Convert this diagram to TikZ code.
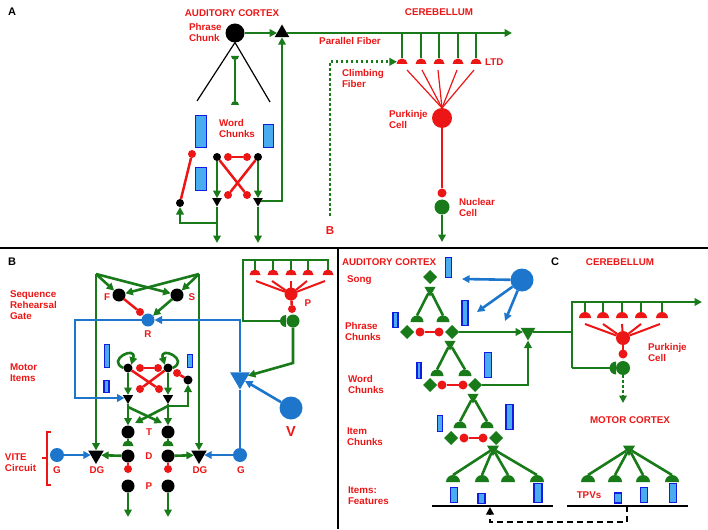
\documentclass[tikz,border=0pt]{standalone}
\usepackage{fontspec}
\setmainfont{Liberation Sans}
\usetikzlibrary{shapes.geometric,arrows.meta}

\definecolor{gn}{RGB}{24,122,24}
\definecolor{rd}{RGB}{236,22,22}
\definecolor{bu}{RGB}{30,118,204}
\definecolor{barfill}{RGB}{74,172,240}
\definecolor{barline}{RGB}{16,28,226}

\begin{document}
\begin{tikzpicture}[x=1pt,y=-1pt]
  \tikzstyle{every node}=[inner sep=0pt,outer sep=0pt]
  \tikzstyle{lab}=[text=rd,font=\fontsize{9.8}{11}\selectfont\bfseries,align=left]
  \tikzstyle{panel}=[font=\fontsize{11}{12}\selectfont\bfseries]
  \tikzstyle{gl}=[draw=gn,line width=2.6pt]
  \tikzstyle{ga}=[gl,-{Triangle[length=7.5pt,width=7.5pt]}]
  \tikzstyle{gdt}=[ga,dash pattern=on 2.6pt off 2.4pt]
  \tikzstyle{rl}=[draw=rd,line width=2.5pt]
  \tikzstyle{rthin}=[draw=rd,line width=1.2pt]
  \tikzstyle{ul}=[draw=bu,line width=2.6pt]
  \tikzstyle{ua}=[ul,-{Triangle[length=7.5pt,width=7.5pt]}]
  \tikzstyle{kc}=[circle,fill=black]
  \tikzstyle{rc}=[circle,fill=rd]
  \tikzstyle{gc}=[circle,fill=gn]
  \tikzstyle{uc}=[circle,fill=bu]
  \tikzstyle{syn}=[semicircle,fill=gn,anchor=chord center]
  \tikzstyle{dia}=[diamond,fill=gn,minimum size=14pt]
  \tikzstyle{tri}=[regular polygon,regular polygon sides=3,fill=black]
  \tikzstyle{itri}=[tri,shape border rotate=180]
  \tikzstyle{bar}=[rectangle,draw=barline,fill=barfill,line width=1.6pt]

  \useasboundingbox (0,0) rectangle (708,529);
  % frames
  \draw[line width=2.4pt] (0,248) -- (708,248);
  \draw[line width=2.4pt] (338,248) -- (338,529);

  % ---------- A ----------
  \node[panel] (lA) at (12,12) {A};
  \node[lab] (acxA) at (232,13) {AUDITORY CORTEX};
  \node[lab,anchor=west] (phA) at (189,33) {Phrase\\Chunk};
  \node[kc,minimum size=19pt] (pc) at (235,33) {};
  \node[tri,minimum size=17pt] (pt) at (282,33) {};
  \coordinate (pfA) at (512,33);
  \draw[ga] (pc) -- (pt);
  \draw[ga] (pt) -- (pfA);
  \coordinate (wcl) at (197,101);
  \coordinate (wcr) at (270,102);
  \draw[line width=1.2pt] (pc.south) -- (wcl);
  \draw[line width=1.2pt] (pc.south) -- (wcr);
  \node[syn,minimum width=8pt,shape border rotate=180] (tdA) at (235,56) {};
  \node[syn,minimum width=8pt] (tuA) at (235,105) {};
  \draw[gl] (tdA.apex) -- (tuA.apex);

  \node[bar,minimum width=11pt,minimum height=32pt] (ba1) at (201,131.5) {};
  \node[bar,minimum width=10pt,minimum height=23pt] (ba2) at (268.5,136) {};
  \node[bar,minimum width=11pt,minimum height=23pt] (ba3) at (201,179) {};
  \node[lab,anchor=west] (wcA) at (219,128) {Word\\Chunks};

  \node[kc,minimum size=8pt] (wk1) at (217,157) {};
  \node[kc,minimum size=8pt] (wk2) at (258,157) {};
  \node[rc,minimum size=8pt] (wr1) at (228,157) {};
  \node[rc,minimum size=8pt] (wr2) at (247,157) {};
  \node[rc,minimum size=8pt] (wr3) at (228,195) {};
  \node[rc,minimum size=8pt] (wr4) at (247,195) {};
  \draw[rl] (wr1) -- (wr2);
  \draw[rl] (wk1) -- (wr4);
  \draw[rl] (wk2) -- (wr3);
  \node[itri,minimum size=11pt] (wt1) at (217,201) {};
  \node[itri,minimum size=11pt] (wt2) at (258,201) {};
  \draw[ga] (wk1) -- (wt1);
  \draw[ga] (wk2) -- (wt2);
  \node[rc,minimum size=8pt] (wr5) at (192,154) {};
  \node[kc,minimum size=8pt] (wk3) at (180,203) {};
  \draw[rl] (wr5) -- (wk3);
  \coordinate (wo1) at (217,243);
  \coordinate (wo2) at (258,243);
  \coordinate (wj1) at (217,223);
  \draw[ga] (wt1) -- (wo1);
  \draw[ga] (wj1) -| (wk3);
  \draw[ga] (wt2) -- (wo2);
  \draw[ga] (wt2) -| (pt);

  % cerebellum A
  \node[lab] (cbA) at (439,12) {CEREBELLUM};
  \node[lab] (pfl) at (350,41) {Parallel Fiber};
  \foreach \x [count=\i] in {402,421,439,458,476}{
    \node[syn,fill=rd,minimum width=11pt] (pa\i) at (\x,64) {};
    \draw[gl] (pa\i |- pfA) -- (pa\i.apex);
  }
  \node[lab,anchor=west] (ltd) at (485,62) {LTD};
  \node[rc,minimum size=20pt] (pka) at (442,118) {};
  \foreach \x in {407,422,438,457,474} \draw[rthin] (\x,70) -- (pka.north);
  \node[lab,anchor=west] (pkla) at (389,119) {Purkinje\\Cell};
  \node[rc,minimum size=9pt] (nra) at (442,193) {};
  \draw[rl,line width=2.8pt] (pka) -- (nra);
  \node[gc,minimum size=15pt] (nca) at (442,207) {};
  \coordinate (ncoA) at (442,242);
  \draw[ga] (nca) -- (ncoA);
  \node[lab,anchor=west] (ncl) at (459,207) {Nuclear\\Cell};
  \coordinate (cfA) at (330,216);
  \draw[gdt] (cfA) |- (pa1);
  \node[lab,anchor=west] (cfl) at (342,78) {Climbing\\Fiber};
  \node[lab,font=\fontsize{11.5}{12}\selectfont\bfseries] (lBA) at (330,231) {B};

  % ---------- B ----------
  \node[panel] (lB) at (12,262) {B};
  \node[lab,anchor=west] (srg) at (10,305) {Sequence\\Rehearsal\\Gate};
  \coordinate (gtl) at (96,274);
  \coordinate (gtr) at (199,274);
  \node[kc,minimum size=13pt] (gF) at (119,295) {};
  \node[kc,minimum size=13pt] (gS) at (177,295) {};
  \node[uc,minimum size=13pt] (gR) at (148,320) {};
  \node[rc,minimum size=8pt] (gFr) at (140,312) {};
  \draw[ga] (gtl) -- (gF);
  \draw[ga] (gtl) -- (gS);
  \draw[ga] (gtr) -- (gF);
  \draw[ga] (gtr) -- (gS);
  \draw[rl] (gF) -- (gFr);
  \draw[ga] (gS) -- (gR);
  \node[lab] at (107,297) {F};
  \node[lab] at (192,297) {S};
  \node[lab] at (148,334) {R};

  \node[lab,anchor=west] (mil) at (10,373) {Motor\\Items};
  \node[bar,minimum width=5pt,minimum height=23pt] (bb1) at (107,356) {};
  \node[bar,minimum width=5pt,minimum height=12pt] (bb2) at (106.5,386.5) {};
  \node[bar,minimum width=5pt,minimum height=13pt] (bb3) at (190,361) {};
  \node[kc,minimum size=9pt] (mk1) at (128,368) {};
  \node[kc,minimum size=9pt] (mk2) at (168,368) {};
  \node[rc,minimum size=8pt] (mr1) at (140,368) {};
  \node[rc,minimum size=8pt] (mr2) at (158,368) {};
  \node[rc,minimum size=8pt] (mr3) at (140,389) {};
  \node[rc,minimum size=8pt] (mr4) at (159,389) {};
  \node[rc,minimum size=8pt] (mr5) at (177,373) {};
  \node[kc,minimum size=9pt] (mk3) at (188,380) {};
  \draw[rl] (mr1) -- (mr2);
  \draw[rl] (mk1) -- (mr4);
  \draw[rl] (mk2) -- (mr3);
  \draw[rl] (mr5) -- (mk3);
  \draw[ga] (mk1.west) .. controls +(-18,-8) and +(6,-20) .. (mk1.north east);
  \draw[ga] (mk2.east) .. controls +(18,-8) and +(-6,-20) .. (mk2.north west);
  \node[itri,minimum size=12pt] (mt1) at (128,398) {};
  \node[itri,minimum size=12pt] (mt2) at (168,398) {};
  \draw[ga] (mk1) -- (mt1);
  \draw[ga] (mk2) -- (mt2);
  \coordinate (mj1) at (128,407);
  \coordinate (mj2) at (168,406);
  \coordinate (mx1) at (162,423);
  \coordinate (mx2) at (135,423);
  \draw[ga] (mj2) -| (mk3);
  \draw[ga] (mj1) -- (mx1);
  \draw[ga] (mj2) -- (mx2);

  \node[itri,minimum size=18pt] (dg1) at (96,455) {};
  \node[itri,minimum size=18pt] (dg2) at (199,455) {};
  \draw[ga] (gtl) -- (dg1);
  \draw[ga] (gtr) -- (dg2);
  \foreach \n/\x in {1/128,2/168}{
    \node[kc,minimum size=13pt] (T\n) at (\x,432) {};
    \node[syn,minimum width=11pt] (hs\n) at (\x,446) {};
    \node[kc,minimum size=13pt] (D\n) at (\x,456) {};
    \node[rc,minimum size=8pt] (dr\n) at (\x,469) {};
    \node[kc,minimum size=13pt] (P\n) at (\x,486) {};
    \coordinate (po\n) at (\x,517);
    \draw[ga] (mt\n) -- (T\n);
    \draw[gl] (T\n) -- (hs\n.apex);
    \draw[rl] (D\n) -- (dr\n);
    \draw[ga] (P\n) -- (po\n);
  }
  \draw[ga] (D1) -- (dg1);
  \draw[ga] (D2) -- (dg2);
  \node[lab] at (149,432) {T};
  \node[lab] at (149,456) {D};
  \node[lab] at (149,486) {P};
  \node[lab] at (97,470) {DG};
  \node[lab] at (200,470) {DG};

  \node[uc,minimum size=14pt] (G1) at (57,455) {};
  \node[uc,minimum size=14pt] (G2) at (240,455) {};
  \node[lab] at (57,470) {G};
  \node[lab] at (241,470) {G};
  \draw[ua] (G1) -- (dg1);
  \draw[ua] (G2) -- (dg2);
  \node[itri,fill=bu,minimum size=23pt] (bt) at (240,378) {};
  \draw[ul] (G2) -- (bt);
  \draw[ua] (bt) |- (gR);
  \coordinate (rlp) at (75,320);
  \draw[ua] (gR) -- (rlp) |- (mt1);
  \node[uc,minimum size=23pt] (V) at (291,408) {};
  \node[lab,font=\fontsize{14.5}{15}\selectfont\bfseries] at (291,432) {V};
  \draw[ua] (V) -- (bt);

  \node[lab,anchor=west] (vite) at (5,463) {VITE\\Circuit};
  \draw[draw=rd,line width=1.6pt] (51,432) -- (47,432) -- (47,485) -- (51,485);
  \draw[draw=rd,line width=1.6pt] (47,458) -- (42,458);

  % small cerebellum B
  \coordinate (mcl) at (243,260);
  \coordinate (mcr) at (329,260);
  \node[syn,minimum width=12pt,shape border rotate=90] (hsB) at (286,321) {};
  \draw[gl] (mcr) -- (mcl) |- (hsB);
  \foreach \x [count=\i] in {255,273,291,308,328}{
    \node[syn,fill=rd,minimum width=11pt] (pb\i) at (\x,275) {};
    \draw[gl] (pb\i |- mcl) -- (pb\i.apex);
  }
  \node[rc,minimum size=13pt] (pkB) at (291,294) {};
  \foreach \x in {256,272,291,307,325} \draw[rl,line width=2pt] (\x,281) -- (pkB);
  \node[rc,minimum size=8pt] (prB) at (292,309) {};
  \draw[rl] (pkB) -- (prB);
  \node[gc,minimum size=13pt] (ncB) at (293,321) {};
  \node[lab] at (308,303) {P};
  \coordinate (nbB) at (293,363);
  \draw[ga] (ncB) -- (nbB) -- (bt);

  % ---------- C ----------
  \node[lab,anchor=west] (acxC) at (342,262) {AUDITORY CORTEX};
  \node[panel] (lC) at (555,262) {C};
  \node[lab] (cbC) at (620,262) {CEREBELLUM};
  \node[lab,anchor=west] at (347,280) {Song};
  \node[lab,anchor=west] at (345,331) {Phrase\\Chunks};
  \node[lab,anchor=west] at (348,384) {Word\\Chunks};
  \node[lab,anchor=west] at (347,437) {Item\\Chunks};
  \node[lab,anchor=west] at (348,496) {Items:\\Features};

  \node[bar,minimum width=6pt,minimum height=20pt] at (448.5,267.5) {};
  \node[bar,minimum width=5pt,minimum height=15pt] at (395.5,320) {};
  \node[bar,minimum width=6pt,minimum height=25pt] at (465,313) {};
  \node[bar,minimum width=4.5pt,minimum height=16pt] at (419,370.5) {};
  \node[bar,minimum width=7pt,minimum height=25pt] at (488,365) {};
  \node[bar,minimum width=5pt,minimum height=16pt] at (440,423.5) {};
  \node[bar,minimum width=7pt,minimum height=25pt] at (509.5,417) {};
  \node[bar,minimum width=7pt,minimum height=15pt] at (454,495) {};
  \node[bar,minimum width=7pt,minimum height=10pt] at (481.5,498.5) {};
  \node[bar,minimum width=8pt,minimum height=19pt] at (538,493) {};
  \node[bar,minimum width=7pt,minimum height=10pt] at (618,498) {};
  \node[bar,minimum width=7pt,minimum height=15pt] at (644,495) {};
  \node[bar,minimum width=7pt,minimum height=19pt] at (673,493) {};

  % song
  \node[dia] (sd) at (430,277) {};
  \node[itri,fill=gn,minimum size=13pt] (st) at (430,290) {};
  \node[syn,minimum width=13pt] (sh1) at (417,322) {};
  \node[syn,minimum width=13pt] (sh2) at (443,322) {};
  \draw[gl] (st) -- (sh1.apex);
  \draw[gl] (st) -- (sh2.apex);
  % phrase
  \node[dia] (pd1) at (407,332) {};
  \node[dia] (pd2) at (452,332) {};
  \node[rc,minimum size=9pt] (pr1) at (420,332) {};
  \node[rc,minimum size=9pt] (pr2) at (439,332) {};
  \draw[rl] (pr1) -- (pr2);
  \node[itri,fill=gn,minimum size=13pt] (wtC) at (450,344) {};
  \node[syn,minimum width=13pt] (wh1) at (437,376) {};
  \node[syn,minimum width=13pt] (wh2) at (465,376) {};
  \draw[gl] (wtC) -- (wh1.apex);
  \draw[gl] (wtC) -- (wh2.apex);
  % word
  \node[dia] (wd1) at (430,385) {};
  \node[dia] (wd2) at (475,385) {};
  \node[rc,minimum size=9pt] (wq1) at (442,385) {};
  \node[rc,minimum size=9pt] (wq2) at (463,385) {};
  \draw[rl] (wq1) -- (wq2);
  \node[itri,fill=gn,minimum size=13pt] (itC) at (473,397) {};
  \node[syn,minimum width=13pt] (ih1) at (460,428) {};
  \node[syn,minimum width=13pt] (ih2) at (487,428) {};
  \draw[gl] (itC) -- (ih1.apex);
  \draw[gl] (itC) -- (ih2.apex);
  % item
  \node[dia] (id1) at (451,438) {};
  \node[dia] (id2) at (496,438) {};
  \node[rc,minimum size=9pt] (iq1) at (464,438) {};
  \node[rc,minimum size=9pt] (iq2) at (483,438) {};
  \draw[rl] (iq1) -- (iq2);
  \node[itri,fill=gn,minimum size=14pt] (ftC) at (493,449) {};
  \foreach \x [count=\i] in {453,482,508,537}{
    \node[syn,minimum width=14pt] (fh\i) at (\x,482) {};
    \draw[gl] (ftC) -- (fh\i.apex);
  }
  % motor cortex
  \node[lab] (mcx) at (630,420) {MOTOR CORTEX};
  \node[itri,fill=gn,minimum size=14pt] (mtC) at (629,449) {};
  \foreach \x [count=\i] in {588,615,643,672}{
    \node[syn,minimum width=14pt] (mh\i) at (\x,482) {};
    \draw[gl] (mtC) -- (mh\i.apex);
  }
  \node[lab] at (589,495) {TPVs};
  \coordinate (b1l) at (432,506);
  \coordinate (b1r) at (553,506);
  \coordinate (b2l) at (567,506);
  \coordinate (b2r) at (688,506);
  \draw[line width=2pt] (b1l) -- (b1r);
  \draw[line width=2pt] (b2l) -- (b2r);
  \coordinate (dsa) at (627,506);
  \coordinate (dsm) at (627,522);
  \coordinate (dse) at (490,507);
  \draw[line width=2.2pt,dash pattern=on 6pt off 4pt,-{Triangle[length=7.5pt,width=7.5pt]}] (dsa) -- (dsm) -| (dse);

  % auditory to cerebellum
  \node[uc,minimum size=23pt] (uC) at (522,280) {};
  \coordinate (ua1) at (462,279);
  \coordinate (ua2) at (477,312);
  \coordinate (ua3) at (505,321);
  \draw[ua] (uC) -- (ua1);
  \draw[ua] (uC) -- (ua2);
  \draw[ua] (uC) -- (ua3);
  \node[itri,fill=gn,minimum size=17pt] (ct) at (528,332) {};
  \draw[ga] (pd2) -- (ct);
  \draw[ga] (wd2) -| (ct);
  \coordinate (cj) at (572,332);
  \coordinate (cjt) at (572,302);
  \coordinate (cjb) at (572,368);
  \coordinate (pfC) at (702,302);
  \draw[gl] (ct) -- (cj);
  \draw[ga] (cjb) -- (cjt) -- (pfC);
  \node[syn,minimum width=13pt,shape border rotate=90] (hsC) at (616,368) {};
  \draw[gl] (cjb) -- (hsC);
  \foreach \x [count=\i] in {585,603,622,641,662}{
    \node[syn,fill=rd,minimum width=12pt] (pcC\i) at (\x,318) {};
    \draw[gl] (pcC\i |- cjt) -- (pcC\i.apex);
  }
  \node[rc,minimum size=14pt] (pkC) at (623,338) {};
  \foreach \x in {585,603,622,641,660} \draw[rl,line width=2pt] (\x,324) -- (pkC);
  \node[rc,minimum size=9pt] (prC) at (623,354) {};
  \draw[rl] (pkC) -- (prC);
  \node[gc,minimum size=14pt] (ncC) at (623,368) {};
  \node[lab,anchor=west] at (648,352) {Purkinje\\Cell};
  \coordinate (ncoC) at (623,403);
  \draw[gdt] (ncC) -- (ncoC);
\end{tikzpicture}
\end{document}
